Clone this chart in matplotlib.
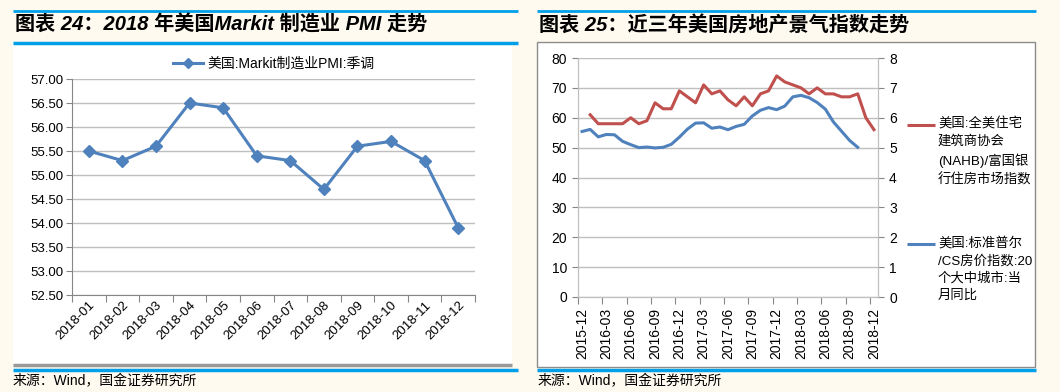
import matplotlib
matplotlib.use("Agg")
import matplotlib.pyplot as plt
from matplotlib.patches import Rectangle
from matplotlib.lines import Line2D
from matplotlib.ticker import FixedLocator, NullFormatter, FixedFormatter

plt.rcParams['font.family'] = ['Liberation Sans', 'Noto Sans CJK SC', 'DejaVu Sans']

# ---------------- data ----------------
pmi_months = ["2018-01", "2018-02", "2018-03", "2018-04", "2018-05", "2018-06",
              "2018-07", "2018-08", "2018-09", "2018-10", "2018-11", "2018-12"]
pmi_values = [55.5, 55.3, 55.6, 56.5, 56.4, 55.4, 55.3, 54.7, 55.6, 55.7, 55.3, 53.9]
pmi_label = "美国:Markit制造业PMI:季调"

house_months = ["2015-12", "2016-01", "2016-02", "2016-03", "2016-04", "2016-05", "2016-06",
                "2016-07", "2016-08", "2016-09", "2016-10", "2016-11", "2016-12",
                "2017-01", "2017-02", "2017-03", "2017-04", "2017-05", "2017-06",
                "2017-07", "2017-08", "2017-09", "2017-10", "2017-11", "2017-12",
                "2018-01", "2018-02", "2018-03", "2018-04", "2018-05", "2018-06",
                "2018-07", "2018-08", "2018-09", "2018-10", "2018-11", "2018-12"]
# NAHB index: starts 2016-01
nahb_values = [61, 58, 58, 58, 58, 60, 58, 59, 65, 63, 63, 69,
               67, 65, 71, 68, 69, 66, 64, 67, 64, 68, 69, 74,
               72, 71, 70, 68, 70, 68, 68, 67, 67, 68, 60, 56]
# Case-Shiller 20-city YoY (%): 2015-12 .. 2018-10
cs_values = [5.54, 5.61, 5.36, 5.44, 5.43, 5.21, 5.10, 5.00, 5.02, 4.99, 5.01, 5.11,
             5.35, 5.62, 5.82, 5.83, 5.65, 5.69, 5.60, 5.71, 5.78, 6.06, 6.25, 6.34,
             6.27, 6.39, 6.70, 6.75, 6.67, 6.51, 6.29, 5.86, 5.55, 5.24, 5.01]
nahb_label = "美国:全美住宅\n建筑商协会\n(NAHB)/富国银\n行住房市场指数"
cs_label = "美国:标准普尔\n/CS房价指数:20\n个大中城市:当\n月同比"
house_tick_labels = house_months[::3]

title_left = "图表 24：2018 年美国Markit 制造业 PMI 走势"
title_right = "图表 25：近三年美国房地产景气指数走势"
source_text = "来源：Wind，国金证券研究所"

# ---------------- figure ----------------
W, H = 1060, 392
fig = plt.figure(figsize=(W / 100, H / 100), dpi=100)
fig.patch.set_facecolor("#FFFAF0")

def fx(px):
    return px / W

def fy(py):
    return 1 - py / H

BLUE_BAR = "#00A0E9"
GRID = "#BFBFBF"
AXC = "#868686"
RED = "#C0504D"
LBLUE = "#4F81BD"

# panel backgrounds
fig.patches.append(Rectangle((fx(13), fy(364)), fx(499), (364 - 44) / H,
                             transform=fig.transFigure, facecolor="white", edgecolor="none", zorder=-2))
fig.patches.append(Rectangle((fx(537), fy(367)), fx(498), (367 - 42) / H,
                             transform=fig.transFigure, facecolor="white", edgecolor="#8C8C8C",
                             linewidth=1.0, zorder=-2))

def hline(x0, x1, y, color, lw):
    fig.lines.append(Line2D([fx(x0), fx(x1)], [fy(y), fy(y)], transform=fig.transFigure,
                            color=color, linewidth=lw, solid_capstyle="butt", zorder=-1))

hline(13, 518, 10.5, BLUE_BAR, 2.0)
hline(13, 518, 42.5, BLUE_BAR, 2.5)
hline(537, 1036, 10.5, BLUE_BAR, 2.0)
hline(13, 512, 365, "#999999", 2.5)
hline(13, 518, 369.5, BLUE_BAR, 2.5)
hline(537, 1036, 369.5, BLUE_BAR, 2.5)

title_kw = dict(fontsize=14.5, fontweight="bold", fontstyle="italic", va="center", ha="left",
                family=['Liberation Sans', 'Noto Sans CJK SC'])
fig.text(fx(15), fy(25), title_left, **title_kw)
fig.text(fx(539), fy(25), title_right, **title_kw)
src_kw = dict(fontsize=10, va="center", ha="left", family=['Liberation Sans', 'Noto Sans CJK SC'])
fig.text(fx(13), fy(381), source_text, **src_kw)
fig.text(fx(538), fy(381), source_text, **src_kw)

# ---------------- left chart ----------------
ax = fig.add_axes([fx(72), fy(295), fx(475 - 72), (295 - 79) / H])
ax.set_facecolor("none")
x = list(range(len(pmi_values)))
ax.plot(x, pmi_values, color=LBLUE, linewidth=2.2, marker="D", markersize=6.5,
        markeredgecolor=LBLUE, markerfacecolor=LBLUE, zorder=3)
ax.set_ylim(52.5, 57.0)
yt = [52.5 + 0.5 * i for i in range(10)]
ax.set_yticks(yt)
ax.set_yticklabels([f"{v:.2f}" for v in yt])
ax.set_xlim(-0.5, len(pmi_values) - 0.5)
ax.xaxis.set_major_locator(FixedLocator([i - 0.5 for i in range(len(pmi_values) + 1)]))
ax.xaxis.set_major_formatter(NullFormatter())
ax.xaxis.set_minor_locator(FixedLocator(x))
ax.xaxis.set_minor_formatter(FixedFormatter(pmi_months))
ax.tick_params(axis="x", which="major", length=5, color=AXC, direction="out")
ax.tick_params(axis="x", which="minor", length=0, labelsize=9.5, pad=3)
for lab in ax.xaxis.get_minorticklabels():
    lab.set_rotation(45)
    lab.set_ha("right")
    lab.set_va("top")
    lab.set_rotation_mode("anchor")
ax.tick_params(axis="y", length=4, color=AXC, labelsize=9.5, pad=2)
ax.grid(axis="y", color=GRID, linewidth=1.0)
ax.set_axisbelow(True)
for s in ["top", "right"]:
    ax.spines[s].set_visible(False)
for s in ["left", "bottom"]:
    ax.spines[s].set_color(AXC)
ax.legend([Line2D([0], [0], color=LBLUE, linewidth=2.2, marker="D", markersize=5)],
          [pmi_label], loc="lower center", bbox_to_anchor=(0.5, 1.0), frameon=False,
          fontsize=10, handlelength=2.2, handletextpad=0.3, borderaxespad=0.2)

# ---------------- right chart ----------------
axr = fig.add_axes([fx(578), fy(297), fx(878 - 578), (297 - 58) / H])
axr.set_facecolor("none")
n = len(house_months)
nahb_x = list(range(1, 1 + len(nahb_values)))
cs_x = list(range(len(cs_values)))
axr.plot(nahb_x, nahb_values, color=RED, linewidth=2.2, zorder=3)
axr.set_ylim(0, 80)
axr.set_yticks(range(0, 81, 10))
axr.set_xlim(-0.5, n - 0.5)
axr.xaxis.set_major_locator(FixedLocator([i - 0.5 for i in range(0, n, 3)]))
axr.xaxis.set_major_formatter(NullFormatter())
axr.xaxis.set_minor_locator(FixedLocator(list(range(0, n, 3))))
axr.xaxis.set_minor_formatter(FixedFormatter(house_tick_labels))
axr.tick_params(axis="x", which="major", length=5, color=AXC)
axr.tick_params(axis="x", which="minor", length=0, labelsize=10, pad=8, labelrotation=90)
axr.tick_params(axis="y", length=4, color=AXC, labelsize=10, pad=4)
axr.grid(axis="y", color=GRID, linewidth=1.0)
axr.set_axisbelow(True)
axr.spines["top"].set_visible(False)
for s in ["left", "bottom", "right"]:
    axr.spines[s].set_color(GRID)

ax2 = axr.twinx()
ax2.plot(cs_x, cs_values, color=LBLUE, linewidth=2.2, zorder=3)
ax2.set_ylim(0, 8)
ax2.set_yticks(range(0, 9))
ax2.tick_params(axis="y", length=4, color=AXC, labelsize=10, pad=4)
ax2.spines["top"].set_visible(False)
for s in ["left", "bottom", "right"]:
    ax2.spines[s].set_color(GRID)

# legend (right side)
leg_kw = dict(fontsize=9.6, va="top", ha="left", linespacing=1.5,
              family=['Liberation Sans', 'Noto Sans CJK SC'])
hline(907, 935, 124.5, RED, 2.2)
fig.text(fx(938), fy(117), nahb_label, **leg_kw)
hline(907, 935, 244.5, LBLUE, 2.2)
fig.text(fx(938), fy(237), cs_label, **leg_kw)

fig.savefig("out.png", dpi=100, facecolor=fig.get_facecolor())
